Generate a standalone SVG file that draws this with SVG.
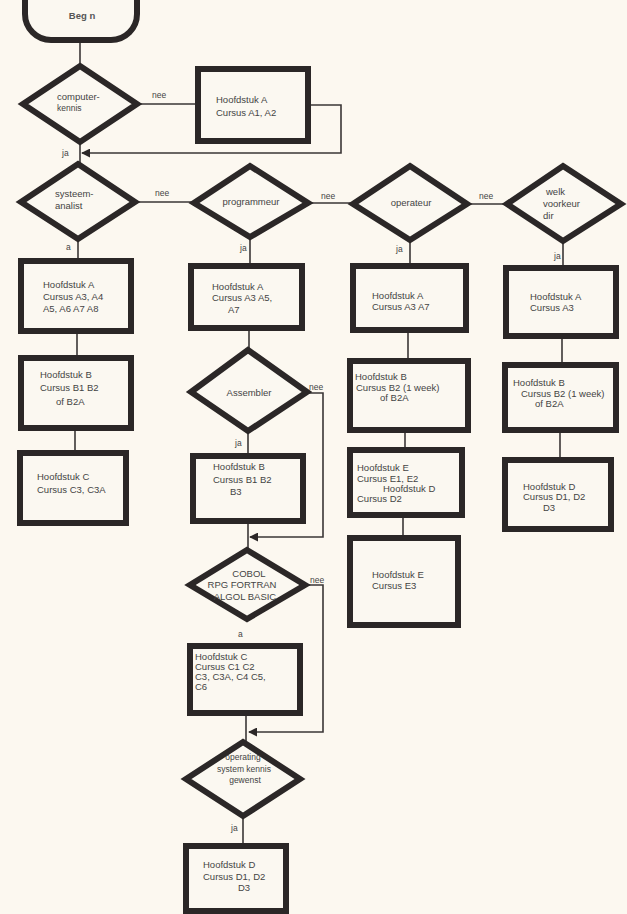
<svg xmlns="http://www.w3.org/2000/svg" width="627" height="914" viewBox="0 0 627 914">
<defs>
<style>
.bg{fill:#fcf8f0}
.box{fill:#fbf8f1;stroke:#2b2727;stroke-width:6}
.dia{fill:#fbf8f1;stroke:#2b2727;stroke-width:6;stroke-linejoin:miter}
.ln{fill:none;stroke:#3a3636;stroke-width:1.6}
text{font-family:"Liberation Sans",Arial,sans-serif;font-size:9.5px;fill:#444}
.c{text-anchor:middle}
.lbl{font-size:8.5px}
</style>
<marker id="ah" viewBox="0 0 10 10" refX="9" refY="5" markerWidth="9" markerHeight="9" markerUnits="userSpaceOnUse" orient="auto">
<path d="M0,0 L10,5 L0,10 z" fill="#2b2727"/>
</marker>
</defs>
<rect class="bg" x="0" y="0" width="627" height="914"/>

<g id="connectors">
<path class="ln" d="M80,40 V66"/>
<path class="ln" d="M80,142 V164"/>
<path class="ln" d="M137,104 H196"/>
<path class="ln" d="M310,105 H341 V153 H82" marker-end="url(#ah)"/>
<path class="ln" d="M135,202 H194"/>
<path class="ln" d="M308,203 H351"/>
<path class="ln" d="M467,204 H506"/>
<path class="ln" d="M78,239 V259"/>
<path class="ln" d="M77,333 V356"/>
<path class="ln" d="M75,430 V451"/>
<path class="ln" d="M250,237 V264"/>
<path class="ln" d="M249,330 V349"/>
<path class="ln" d="M248,431 V454"/>
<path class="ln" d="M307,393 H323 V537 H250" marker-end="url(#ah)"/>
<path class="ln" d="M248,523 V549"/>
<path class="ln" d="M305,585 H323 V732 H249" marker-end="url(#ah)"/>
<path class="ln" d="M246,715 V741"/>
<path class="ln" d="M243,817 V844"/>
<path class="ln" d="M410,240 V264"/>
<path class="ln" d="M408,332 V359"/>
<path class="ln" d="M405,432 V448"/>
<path class="ln" d="M403,517 V536"/>
<path class="ln" d="M563,241 V266"/>
<path class="ln" d="M562,338 V363"/>
<path class="ln" d="M560,432 V458"/>
<text class="lbl" x="152" y="98">nee</text>
<text class="lbl" x="62" y="156">ja</text>
<text class="lbl" x="155" y="196">nee</text>
<text class="lbl" x="321" y="199">nee</text>
<text class="lbl" x="479" y="199">nee</text>
<text class="lbl" x="66" y="250">a</text>
<text class="lbl" x="240" y="251">ja</text>
<text class="lbl" x="396" y="252">ja</text>
<text class="lbl" x="554" y="259">ja</text>
<text class="lbl" x="309" y="390">nee</text>
<text class="lbl" x="235" y="446">ja</text>
<text class="lbl" x="310" y="583">nee</text>
<text class="lbl" x="238" y="637">a</text>
<text class="lbl" x="231" y="831">ja</text>
</g>

<g id="begin">
<rect class="box" x="25" y="-25" width="112" height="65" rx="26" ry="26"/>
<text class="c" x="82" y="19" style="font-weight:bold;fill:#555">Beg n</text>
</g>

<g id="d-computerkennis">
<polygon class="dia" points="80,66 137,104 80,142 23,104"/>
<text x="57" y="100">computer-</text>
<text x="57" y="111" style="font-size:8.5px">kennis</text>
</g>

<g id="box-a1">
<rect class="box" x="198" y="69" width="110" height="72"/>
<text x="216" y="103">Hoofdstuk A</text>
<text x="216" y="116">Cursus A1, A2</text>
</g>

<g id="d-systeemanalist">
<polygon class="dia" points="78,164 135,202 78,239 21,202"/>
<text x="55" y="197">systeem-</text>
<text x="55" y="209">analist</text>
</g>

<g id="d-programmeur">
<polygon class="dia" points="250,166 308,203 250,237 194,203"/>
<text class="c" x="251" y="205">programmeur</text>
</g>

<g id="d-operateur">
<polygon class="dia" points="410,166 467,204 410,240 353,204"/>
<text class="c" x="411" y="206">operateur</text>
</g>

<g id="d-welk">
<polygon class="dia" points="563,166 621,204 563,241 507,204"/>
<text x="546" y="195">welk</text>
<text x="543" y="207">voorkeur</text>
<text x="543" y="219">dir</text>
</g>

<g id="box-left-a">
<rect class="box" x="21" y="261" width="110" height="70"/>
<text x="43" y="288">Hoofdstuk A</text>
<text x="43" y="300">Cursus A3, A4</text>
<text x="43" y="312">A5, A6  A7  A8</text>
</g>

<g id="box-left-b">
<rect class="box" x="21" y="358" width="110" height="70"/>
<text x="40" y="378">Hoofdstuk B</text>
<text x="40" y="391">Cursus B1  B2</text>
<text x="56" y="405">of B2A</text>
</g>

<g id="box-left-c">
<rect class="box" x="20" y="453" width="106" height="70"/>
<text x="37" y="480">Hoofdstuk C</text>
<text x="37" y="493">Cursus C3, C3A</text>
</g>

<g id="box-mid-a">
<rect class="box" x="191" y="266" width="111" height="62"/>
<text x="212" y="290">Hoofdstuk A</text>
<text x="212" y="301">Cursus A3  A5,</text>
<text x="228" y="313">A7</text>
</g>

<g id="d-assembler">
<polygon class="dia" points="248,350 307,392 248,431 191,392"/>
<text class="c" x="249" y="396">Assembler</text>
</g>

<g id="box-mid-b">
<rect class="box" x="193" y="456" width="110" height="65"/>
<text x="213" y="470">Hoofdstuk B</text>
<text x="213" y="483">Cursus B1  B2</text>
<text x="230" y="495">B3</text>
</g>

<g id="d-cobol">
<polygon class="dia" points="247,550 305,585 247,619 190,585"/>
<text class="c" x="249" y="577">COBOL</text>
<text class="c" x="242" y="588">RPG  FORTRAN</text>
<text class="c" x="245" y="600">ALGOL  BASIC</text>
</g>

<g id="box-mid-c">
<rect class="box" x="190" y="646" width="110" height="67"/>
<text x="195" y="660">Hoofdstuk C</text>
<text x="195" y="670">Cursus C1  C2</text>
<text x="195" y="680">C3, C3A, C4  C5,</text>
<text x="195" y="690">C6</text>
</g>

<g id="d-operating">
<polygon class="dia" points="243,742 300,779 243,816 186,779"/>
<text class="c" x="243" y="760" style="font-size:8.5px">operating</text>
<text class="c" x="244" y="772" style="font-size:8.5px">system kennis</text>
<text class="c" x="245" y="783" style="font-size:8.5px">gewenst</text>
</g>

<g id="box-mid-d">
<rect class="box" x="186" y="846" width="100" height="65"/>
<text x="203" y="868">Hoofdstuk D</text>
<text x="203" y="880">Cursus D1, D2</text>
<text x="238" y="891">D3</text>
</g>

<g id="box-op-a">
<rect class="box" x="353" y="266" width="113" height="64"/>
<text x="372" y="299">Hoofdstuk A</text>
<text x="372" y="310">Cursus A3  A7</text>
</g>

<g id="box-op-b">
<rect class="box" x="350" y="361" width="118" height="69"/>
<text x="355" y="380">Hoofdstuk B</text>
<text x="356" y="391">Cursus B2 (1 week)</text>
<text x="380" y="401">of B2A</text>
</g>

<g id="box-op-e">
<rect class="box" x="350" y="450" width="112" height="65"/>
<text x="357" y="471">Hoofdstuk E</text>
<text x="357" y="482">Cursus E1, E2</text>
<text x="383" y="492">Hoofdstuk D</text>
<text x="357" y="502">Cursus D2</text>
</g>

<g id="box-op-e3">
<rect class="box" x="350" y="538" width="108" height="87"/>
<text x="372" y="578">Hoofdstuk E</text>
<text x="372" y="589">Cursus E3</text>
</g>

<g id="box-welk-a">
<rect class="box" x="506" y="268" width="110" height="68"/>
<text x="530" y="300">Hoofdstuk A</text>
<text x="530" y="311">Cursus A3</text>
</g>

<g id="box-welk-b">
<rect class="box" x="505" y="365" width="111" height="65"/>
<text x="513" y="386">Hoofdstuk B</text>
<text x="521" y="397">Cursus B2 (1 week)</text>
<text x="535" y="407">of B2A</text>
</g>

<g id="box-welk-d">
<rect class="box" x="505" y="460" width="106" height="69"/>
<text x="523" y="490">Hoofdstuk D</text>
<text x="523" y="500">Cursus D1, D2</text>
<text x="543" y="511">D3</text>
</g>
</svg>
